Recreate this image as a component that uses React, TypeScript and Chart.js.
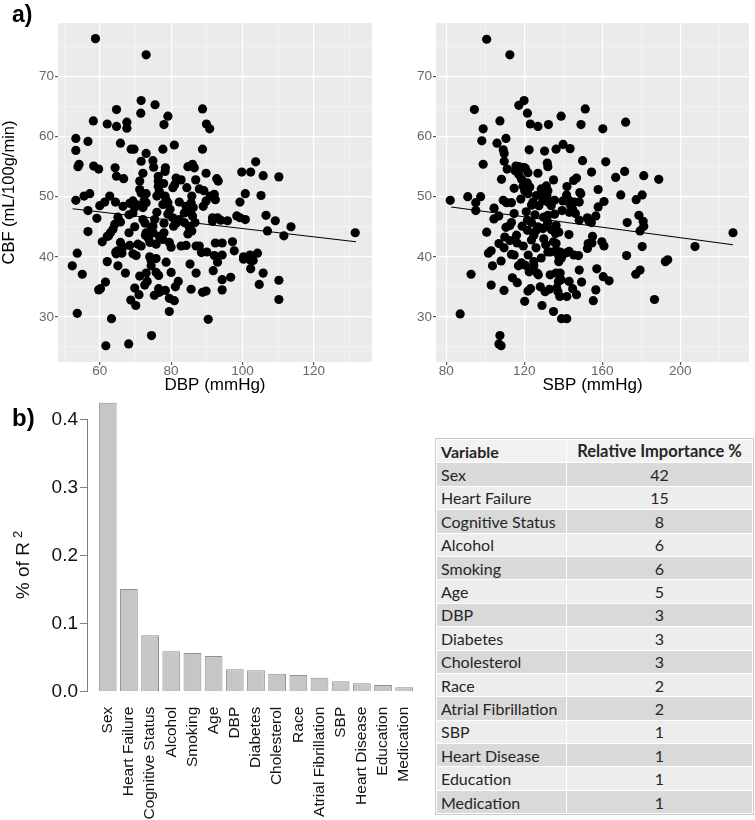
import React, { useEffect, useRef } from 'react';
import { Chart, registerables } from 'chart.js';
Chart.register(...registerables);

const FONT = "'Liberation Sans', Arial, Helvetica, sans-serif";

// ---- panel a) DBP vs CBF : [DBP mmHg, CBF mL/100g/min]
const dbpVsCbf: [number, number][] = [
  [58.8,76.3],[73.0,73.6],[71.6,66.0],[71.5,63.9],[75.5,65.3],[64.7,64.5],[88.8,64.6],[58.2,62.6],[62.1,62.1],[64.7,61.7],
  [67.6,62.4],[67.6,61.4],[79.1,63.4],[78.0,62.0],[89.9,62.1],[90.8,61.3],[53.3,59.7],[53.3,57.7],[56.7,59.2],[65.8,58.9],
  [68.8,57.9],[69.6,57.9],[73.0,57.2],[77.7,57.9],[80.9,58.6],[88.8,57.9],[53.9,55.0],[54.2,55.4],[58.3,55.1],[59.7,54.6],
  [64.3,54.8],[64.7,53.4],[66.7,53.0],[71.6,55.9],[72.1,53.9],[74.9,56.0],[75.1,54.9],[78.4,54.8],[78.3,54.2],[76.4,53.4],
  [71.2,52.6],[76.4,52.6],[81.4,53.1],[82.8,52.8],[84.7,55.0],[86.0,55.4],[86.5,54.8],[86.9,52.8],[87.9,51.3],[89.8,53.9],
  [92.8,53.0],[93.2,52.6],[99.8,54.1],[102.3,54.1],[103.7,55.8],[105.8,53.5],[110.2,53.3],
  [53.3,49.4],[55.6,50.1],[57.2,50.5],[56.7,47.7],[59.2,46.4],[56.7,44.2],[60.0,48.5],[61.4,49.1],[62.8,50.1],[64.4,49.1],
  [65.1,46.6],[64.2,45.4],[63.7,44.6],[66.5,48.4],[65.8,45.8],[68.4,48.9],[69.3,49.3],[69.8,48.2],[70.2,48.7],[69.3,47.3],
  [71.2,51.2],[71.6,50.6],[72.4,49.3],[73.0,50.5],[73.0,49.0],[72.1,48.2],[72.1,46.2],[72.7,45.6],[73.0,44.0],[68.2,44.0],
  [69.8,45.0],[62.1,43.4],[60.7,42.5],[63.0,44.0],[65.8,42.4],[66.5,41.6],[66.2,40.6],[64.5,40.8],[64.6,40.5],[53.7,40.6],
  [69.3,40.5],[70.2,40.2],[70.7,42.1],[71.6,41.8],[72.8,43.6],[74.1,42.4],[75.0,44.0],[75.4,46.2],[76.0,50.1],[76.4,51.7],
  [76.7,50.9],[77.9,52.2],[78.3,50.1],[78.6,49.5],[79.1,47.1],[80.5,51.5],[81.0,52.0],[79.1,49.0],[79.7,47.9],[80.5,46.5],
  [80.7,45.1],[81.4,45.6],[82.3,46.2],[82.3,49.1],[83.7,47.3],[84.4,51.5],[85.6,49.0],[85.8,50.1],[86.2,48.2],[86.0,46.8],
  [86.7,45.7],[85.1,44.9],[85.8,44.3],[84.7,43.8],[83.7,45.7],[89.0,48.4],[89.8,49.3],[91.0,50.1],[92.1,50.4],[92.4,49.5],
  [91.6,46.5],[93.0,46.5],[91.6,45.9],[93.9,46.1],[95.8,46.0],[98.4,46.8],[99.3,46.5],[100.8,46.2],[99.3,49.1],[100.8,50.5],
  [105.2,50.2],[106.6,46.9],[109.2,46.0],[107.0,44.3],[111.6,43.5],[113.6,45.0],[131.6,44.0],
  [87.0,41.8],[87.9,41.8],[88.5,40.7],[90.0,40.8],[92.1,40.2],[92.4,42.3],[94.3,42.3],[94.3,40.3],[97.2,42.5],[97.7,41.0],
  [100.3,40.0],[100.3,39.6],[102.3,39.4],[102.1,40.3],[103.0,39.4],[104.2,40.6],[102.3,38.0],[93.0,39.1],[91.8,37.7],[94.3,36.2],
  [94.3,34.5],[96.7,36.6],[105.8,37.3],[104.7,35.4],[110.2,36.1],[110.2,32.9],[85.3,38.8],[85.6,34.6],[87.0,37.3],[88.8,34.1],
  [89.8,34.3],[90.4,29.6],[84.2,41.9],[82.8,41.8],[80.0,41.6],[79.5,42.4],[77.7,42.9],[76.7,43.4],[78.0,44.0],[75.8,42.1],
  [74.4,39.4],[75.8,39.7],[74.4,38.5],[75.8,37.4],[76.5,36.9],[75.3,33.6],[76.5,34.7],[76.7,34.1],[78.4,34.4],[78.6,39.1],
  [80.0,37.4],[81.2,35.0],[82.0,35.9],[79.5,33.1],[80.9,32.7],[79.5,30.9],[73.0,37.3],[73.3,35.9],[72.6,35.3],[71.2,36.8],
  [71.0,33.7],[68.7,32.8],[70.1,31.9],[69.8,34.8],[67.2,37.3],[65.1,38.5],[62.1,39.2],[61.6,35.8],[59.7,34.5],[60.2,34.7],
  [55.1,37.1],[52.3,38.5],[53.7,30.6],[63.3,29.7],[61.7,25.2],[68.1,25.5],[74.5,26.9],[74.9,45.1],[74.4,44.6],[73.7,43.0],
  [76.0,47.4],[77.7,48.7],[84.2,48.4],[68.2,47.0],[84.7,47.6],[89.2,51.0],[62.5,43.5],[65.0,41.0],[74.0,40.0],[78.0,45.6],
  [68.4,41.9],
];
// regression line end points
const dbpFitX = [52.4, 131.8];
const dbpFitY = [48.0, 42.5];

// ---- panel a) SBP vs CBF : [SBP mmHg, CBF mL/100g/min]
const sbpVsCbf: [number, number][] = [
  [100.7,76.2],[112.6,73.6],[119.9,66.0],[117.2,65.2],[121.6,63.9],[94.4,64.5],[151.3,64.6],[107.5,62.6],[123.1,62.1],[127.0,61.7],
  [132.4,62.0],[138.9,63.4],[149.1,62.0],[172.0,62.4],[160.3,61.3],[98.9,61.3],[98.2,59.3],[110.6,59.7],[106.0,58.9],[109.2,57.8],
  [109.7,57.2],[122.5,57.8],[130.4,57.6],[136.3,57.9],[139.9,58.7],[143.5,58.0],[98.9,55.4],[109.7,55.9],[111.2,54.6],[115.7,55.1],
  [115.3,54.3],[117.2,55.0],[119.7,54.9],[120.6,54.7],[121.9,54.0],[127.0,53.9],[131.8,55.6],[132.1,55.0],[135.0,52.8],[149.9,56.0],
  [154.5,54.1],[161.8,55.8],[166.9,53.2],[171.5,54.2],[181.3,53.5],[189.0,52.9],[108.3,52.9],[114.8,51.4],[117.2,53.7],[118.6,52.9],
  [119.4,51.8],[120.2,51.0],[118.2,49.6],[121.6,52.3],[122.8,51.6],[121.9,50.5],[128.7,51.3],[131.3,51.8],[132.1,51.0],[131.6,50.2],
  [129.1,50.3],[126.2,50.2],[124.5,49.1],[123.7,48.6],[129.6,49.4],[132.1,49.1],[135.5,49.4],[133.8,48.5],[139.8,49.3],[141.9,51.7],
  [141.7,50.3],[143.0,49.4],[143.5,48.7],[145.3,52.7],[146.8,53.1],[148.5,50.7],[149.0,50.5],[148.2,49.1],[144.8,47.9],[145.7,49.1],
  [146.2,47.2],[148.2,46.1],[143.1,47.4],[139.4,47.7],[135.5,47.1],[136.3,45.2],[132.1,46.9],[132.1,45.8],[131.6,45.2],[129.9,46.6],
  [129.6,44.7],[127.0,45.0],[126.2,44.4],[123.7,45.7],[121.6,46.1],[118.9,45.1],[124.9,43.6],[123.7,42.8],[121.6,44.4],[114.8,47.2],
  [113.4,49.0],[109.2,49.4],[110.9,49.0],[106.9,46.8],[104.5,48.1],[104.4,46.3],[113.4,45.7],[112.6,45.2],[110.6,44.9],[110.0,43.3],
  [109.6,41.5],[107.0,42.2],[100.7,44.1],[112.6,42.7],[116.0,43.6],[116.3,42.3],[113.4,40.4],[114.8,40.3],[101.6,40.6],[103.0,41.0],
  [103.7,38.5],[108.1,39.3],[103.0,35.3],[109.6,34.4],[92.7,37.1],[87.1,30.5],[107.5,26.9],[107.0,25.5],[108.1,25.2],[113.9,36.5],
  [116.4,35.7],[118.5,39.0],[120.5,38.6],[122.5,37.5],[120.2,32.6],[121.9,34.3],[123.2,34.7],[124.9,39.2],[124.9,38.5],[126.6,37.3],
  [127.2,37.0],[128.7,39.8],[128.2,35.0],[129.1,31.9],[130.7,34.2],[132.9,34.6],[133.3,37.0],[135.0,30.9],[132.1,40.8],[133.5,40.8],
  [135.0,42.5],[136.3,42.2],[136.0,43.9],[137.7,44.1],[136.3,41.1],[137.5,40.3],[138.4,40.8],[138.9,39.7],[137.7,39.2],[136.3,37.3],
  [138.4,37.3],[137.5,35.9],[136.6,34.8],[137.3,34.2],[138.2,33.4],[138.9,36.2],[139.1,29.7],[141.8,29.7],[141.8,33.4],[143.0,35.9],
  [139.7,40.3],[141.9,40.7],[143.0,40.9],[145.4,40.3],[147.8,40.2],[142.9,43.7],[148.2,37.8],[149.4,35.8],[144.8,34.7],[146.8,33.7],
  [152.4,41.4],[152.8,42.2],[154.7,42.3],[155.0,43.4],[155.4,32.7],[157.2,38.0],[156.7,34.5],[160.5,36.7],[163.5,36.0],[159.8,42.5],
  [160.9,41.8],[160.9,49.2],[157.9,48.3],[157.9,51.2],[156.7,46.8],[152.4,46.5],[153.2,45.9],[154.4,45.7],[169.5,50.3],[172.8,45.7],
  [172.5,40.2],[177.2,37.1],[179.4,37.8],[177.4,49.5],[178.8,46.9],[181.0,45.9],[181.3,45.1],[179.4,44.3],[180.5,41.7],[180.5,50.3],
  [186.8,32.9],[192.4,39.2],[193.6,39.5],[207.6,41.7],[227.1,44.0],[82.0,49.4],[91.0,50.0],[95.1,49.0],[95.1,47.7],[97.6,50.0],
  [125.5,47.0],[127.5,48.5],[130.0,43.0],[134.0,44.5],[126.0,41.5],[131.0,42.0],[119.5,41.8],[122.0,40.3],[117.0,38.5],[121.0,47.5],
];
const sbpFitX = [82.5, 227.1];
const sbpFitY = [48.3, 42.0];

// ---- panel b) relative importance
const barCategories = ['Sex','Heart Failure','Cognitive Status','Alcohol','Smoking','Age','DBP','Diabetes','Cholesterol','Race','Atrial Fibrillation','SBP','Heart Disease','Education','Medication'];
const barShares = [0.4244,0.1508,0.0828,0.0593,0.0568,0.0524,0.0329,0.0314,0.0264,0.0245,0.0206,0.0153,0.0123,0.0098,0.0065];
const tableVariables = barCategories;
const tablePercents = [42,15,8,6,6,5,3,3,3,2,2,1,1,1,1];

const panelBackground = {
  id: 'panelBackground',
  beforeDraw(chart: any) {
    const { ctx, chartArea: a } = chart;
    ctx.save();
    ctx.fillStyle = '#ebebeb';
    ctx.fillRect(a.left, a.top, a.right - a.left, a.bottom - a.top);
    ctx.restore();
  },
};

function isMult(v: number, m: number) {
  return Math.abs(v / m - Math.round(v / m)) < 1e-6;
}

function scatterConfig(points: [number, number][], fitX: number[], fitY: number[], xMin: number, xMax: number, xStep: number, xLabelStep: number, xTitle: string, yTitle: string | null): any {
  const gridOpts = (labelStep: number) => ({
    color: (c: any) => (isMult(c.tick.value, labelStep) ? '#ffffff' : '#f6f6f6'),
    lineWidth: (c: any) => (isMult(c.tick.value, labelStep) ? 1.2 : 0.6),
    tickColor: (c: any) => (isMult(c.tick.value, labelStep) ? '#555555' : 'rgba(0,0,0,0)'),
    tickLength: 3,
    drawTicks: true,
  });
  const tickFont = { family: FONT, size: 13.5, lineHeight: 1 };
  return {
    type: 'scatter',
    data: {
      datasets: [
        {
          data: points.map(([x, y]) => ({ x, y })),
          pointRadius: 4.6,
          pointBackgroundColor: '#000',
          pointBorderWidth: 0,
          showLine: false,
        },
        {
          data: fitX.map((x, i) => ({ x, y: fitY[i] })),
          showLine: true,
          borderColor: '#000',
          borderWidth: 1.1,
          pointRadius: 0,
        },
      ],
    },
    options: {
      animation: false,
      responsive: false,
      maintainAspectRatio: false,
      layout: { padding: { top: 23, right: 6, left: 0, bottom: 0 } },
      plugins: { legend: { display: false }, tooltip: { enabled: false } },
      scales: {
        x: {
          type: 'linear',
          min: xMin,
          max: xMax,
          afterFit: (s: any) => { s.height = 33; },
          border: { display: false },
          grid: gridOpts(xLabelStep),
          ticks: {
            stepSize: xStep,
            includeBounds: false,
            autoSkip: false,
            maxRotation: 0,
            padding: 0,
            color: '#666666',
            font: tickFont,
            callback: (v: number) => (isMult(v, xLabelStep) ? String(v) : ''),
          },
          title: { display: true, text: xTitle, color: '#000', font: { family: FONT, size: 17 }, padding: { top: 0, bottom: -1 } },
        },
        y: {
          type: 'linear',
          min: 22.5,
          max: 78.9,
          afterFit: (s: any) => { s.width = 58; },
          border: { display: false },
          grid: gridOpts(10),
          ticks: {
            stepSize: 5,
            includeBounds: false,
            autoSkip: false,
            padding: 1,
            color: '#666666',
            font: tickFont,
            callback: (v: number) => (isMult(v, 10) ? String(v) : ''),
          },
          title: yTitle
            ? { display: true, text: yTitle, color: '#000', font: { family: FONT, size: 16.5 }, padding: 0 }
            : { display: false },
        },
      },
    },
    plugins: [panelBackground],
  };
}

function barConfig(): any {
  return {
    type: 'bar',
    data: {
      datasets: [
        {
          data: barShares.map((v, i) => ({ x: i, y: v })),
          backgroundColor: '#c6c6c6',
          borderColor: '#8f8f8f',
          borderWidth: 1,
          categoryPercentage: 1,
          barPercentage: 0.84,
          clip: false,
        },
      ],
    },
    options: {
      animation: false,
      responsive: false,
      maintainAspectRatio: false,
      layout: { padding: { top: 23.3, right: 6.5, left: 0, bottom: 0 } },
      plugins: { legend: { display: false }, tooltip: { enabled: false } },
      scales: {
        x: {
          type: 'linear',
          min: -0.98,
          max: 14.51,
          offset: false,
          afterFit: (s: any) => { s.height = 128.3; },
          grid: { display: false, offset: false },
          border: { display: false },
          ticks: {
            stepSize: 1,
            includeBounds: false,
            autoSkip: false,
            minRotation: 90,
            maxRotation: 90,
            padding: 7,
            color: '#111',
            font: { family: FONT, size: 15.5 },
            callback: (v: number) => barCategories[v] ?? '',
          },
        },
        y: {
          type: 'linear',
          min: 0,
          max: 0.4,
          afterFit: (s: any) => { s.width = 87; },
          border: { display: true, color: '#7d7d7d', width: 1 },
          grid: { display: true, drawOnChartArea: false, drawTicks: true, tickLength: 7, tickColor: '#7d7d7d', color: '#7d7d7d' },
          ticks: {
            stepSize: 0.1,
            autoSkip: false,
            padding: 2,
            color: '#111',
            font: { family: FONT, size: 19 },
            callback: (v: number) => v.toFixed(1),
          },
        },
      },
    },
  };
}

function ChartCanvas({ make, left, top, width, height }: { make: () => any; left: number; top: number; width: number; height: number }) {
  const ref = useRef<HTMLCanvasElement>(null);
  useEffect(() => {
    const chart = new Chart(ref.current as HTMLCanvasElement, make());
    return () => chart.destroy();
  }, []);
  return <canvas ref={ref} width={width} height={height} style={{ position: 'absolute', left, top, width, height }} />;
}

function ImportanceTable() {
  const cell: React.CSSProperties = { padding: '0 4px', border: '1px solid #ffffff', whiteSpace: 'nowrap' };
  return (
    <table
      style={{
        position: 'absolute',
        left: 436,
        top: 439,
        width: 317,
        borderCollapse: 'collapse',
        fontFamily: "Lato, 'Open Sans', sans-serif",
        fontSize: 16,
        color: '#262626',
        outline: '1px solid #c9c9c9',
      }}
    >
      <tbody>
        <tr style={{ height: 23.4, background: '#f2f2f2', fontWeight: 700 }}>
          <td style={{ ...cell, width: 121 }}>Variable</td>
          <td style={{ ...cell, textAlign: 'center', fontSize: 16.5 }}>Relative Importance %</td>
        </tr>
        {tableVariables.map((name, i) => (
          <tr key={name} style={{ height: 23.4, background: i % 2 === 0 ? '#d9d9d9' : '#ededed' }}>
            <td style={cell}>{name}</td>
            <td style={{ ...cell, textAlign: 'center' }}>{tablePercents[i]}</td>
          </tr>
        ))}
      </tbody>
    </table>
  );
}

export default function App() {
  return (
    <div style={{ position: 'absolute', left: 0, top: 0, width: 755, height: 820, background: '#fff', overflow: 'hidden', fontFamily: FONT }}>
      <ChartCanvas
        make={() => scatterConfig(dbpVsCbf, dbpFitX, dbpFitY, 48.3, 136.3, 10, 20, 'DBP (mmHg)', 'CBF (mL/100g/min)')}
        left={0}
        top={0}
        width={378}
        height={395}
      />
      <ChartCanvas
        make={() => scatterConfig(sbpVsCbf, sbpFitX, sbpFitY, 74.7, 235.3, 20, 40, 'SBP (mmHg)', null)}
        left={378}
        top={0}
        width={377}
        height={395}
      />
      <ChartCanvas make={barConfig} left={0} top={396} width={430} height={424} />
      <div style={{ position: 'absolute', left: 12, top: 3, fontSize: 23, fontWeight: 700, lineHeight: 1 }}>a)</div>
      <div style={{ position: 'absolute', left: 12, top: 406, fontSize: 24, fontWeight: 700, lineHeight: 1 }}>b)</div>
      <div
        style={{
          position: 'absolute',
          left: 22,
          top: 565,
          transform: 'translate(-50%, -50%) rotate(-90deg)',
          fontSize: 19,
          whiteSpace: 'nowrap',
          color: '#111',
        }}
      >
        % of R<sup style={{ fontSize: 13, marginLeft: 4, verticalAlign: '0.55em' }}>2</sup>
      </div>
      <ImportanceTable />
    </div>
  );
}
